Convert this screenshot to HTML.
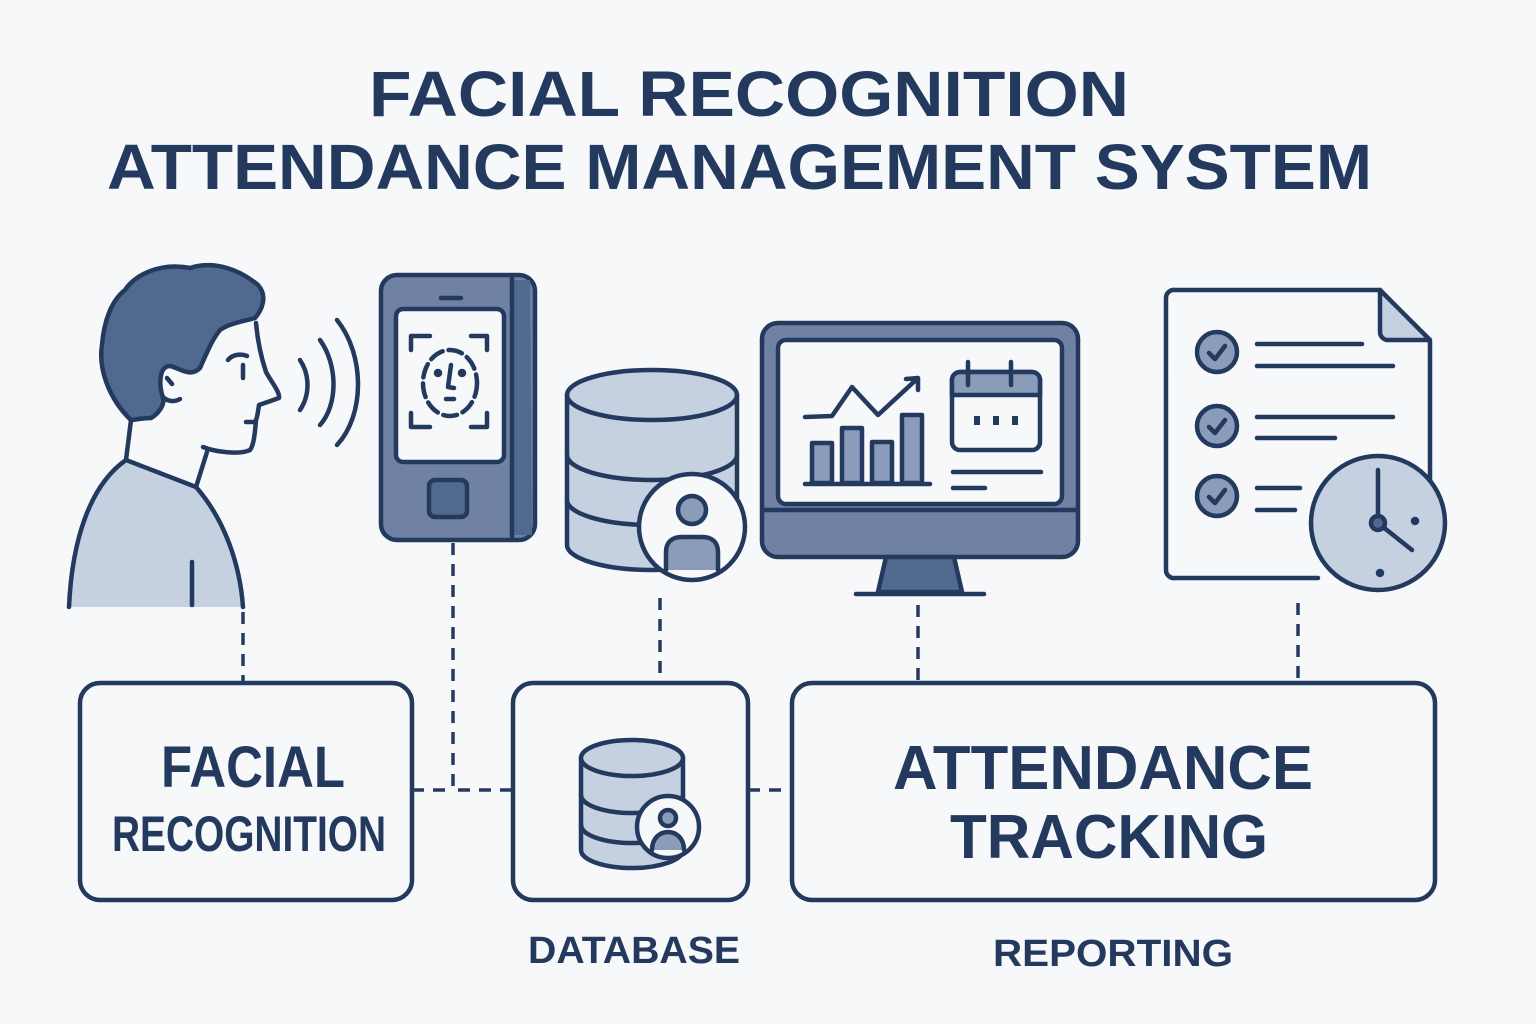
<!DOCTYPE html>
<html><head><meta charset="utf-8"><style>
html,body{margin:0;padding:0;background:#f7f8fa;}
svg{display:block;}
text{font-family:"Liberation Sans",sans-serif;font-weight:bold;fill:#233a5e;}
</style></head><body>
<svg width="1536" height="1024" viewBox="0 0 1536 1024" xmlns="http://www.w3.org/2000/svg">
<rect width="1536" height="1024" fill="#f7f8fa"/>
<g stroke="#233a5e" stroke-width="4.5" stroke-linecap="round" stroke-linejoin="round">
<!-- title -->
<text x="369" y="116" font-size="64" textLength="760" lengthAdjust="spacingAndGlyphs" stroke="none">FACIAL RECOGNITION</text>
<text x="107" y="189" font-size="64" textLength="1265" lengthAdjust="spacingAndGlyphs" stroke="none">ATTENDANCE MANAGEMENT SYSTEM</text>

<!-- person -->
<path d="M69,607 C72,540 90,485 126,460 L196,487 C225,520 240,565 243,607 Z" fill="#c5d0e1" stroke="none"/>
<path d="M69,607 C72,540 90,485 126,460" fill="none"/>
<path d="M196,487 C225,520 240,565 243,607" fill="none"/>
<path d="M126,460 L131,420" fill="none"/>
<path d="M126,460 L196,487" fill="none"/>
<path d="M196,487 L207,452" fill="none"/>
<line x1="192" y1="562" x2="192" y2="605"/>
<path d="M256,323 C258,345 262,360 266,372 C272,383 280,392 279,398 L259,405 C258,412 257,418 256,420 C255,432 254,445 250,450 C240,455 215,452 203,447" fill="#f7f8fa"/>
<path d="M131,420 C110,400 98,370 102,345 C104,320 112,300 125,290 C135,275 160,262 190,268 C215,260 240,270 258,285 C268,296 262,310 255,318 C240,322 228,324 220,330 C212,340 208,350 200,368 C190,378 180,368 170,366 C160,366 158,382 163,398 C165,405 158,414 151,418 C140,418 135,420 131,420 Z" fill="#51698e"/>
<path d="M167,378 L172,384" fill="none"/>
<path d="M163,397 C168,402 175,402 180,399" fill="none"/>
<path d="M228,360 C232,355 240,353 247,356" fill="none"/>
<line x1="243" y1="365" x2="243" y2="378"/>
<line x1="246" y1="422" x2="255" y2="422"/>
<!-- waves -->
<path d="M300,360 C310,375 310,395 300,410" fill="none"/>
<path d="M320,340 C338,365 338,405 320,425" fill="none"/>
<path d="M337,320 C365,355 365,415 337,445" fill="none"/>

<!-- phone -->
<rect x="381" y="275" width="154" height="265" rx="16" fill="#6f82a3"/>
<path d="M513,280 L530,280 L532,535 L513,535 Z" fill="#51698e" stroke="none"/>
<path d="M512,277 L512,538" fill="none"/>
<rect x="396" y="309" width="108" height="153" rx="7" fill="#f7f8fa"/>
<line x1="441" y1="298" x2="461" y2="298"/>
<rect x="429" y="480" width="38" height="37" rx="6" fill="#51698e"/>
<path d="M430,336 H411 V350 M471,336 H487 V350 M411,413 V427 H430 M487,413 V427 H471" fill="none"/>
<ellipse cx="450" cy="383" rx="27" ry="33" fill="none" stroke-dasharray="14 6"/>
<circle cx="438" cy="373" r="2" fill="#233a5e"/>
<circle cx="462" cy="373" r="2" fill="#233a5e"/>
<path d="M451,365 L448,387 L454,388" fill="none"/>
<line x1="446" y1="399" x2="454" y2="399"/>

<!-- database -->
<path d="M567,395 V545 A85,25 0 0 0 737,545 V395" fill="#c5d0e1"/>
<path d="M567,455 A85,25 0 0 0 737,455" fill="none"/>
<path d="M567,500 A85,25 0 0 0 737,500" fill="none"/>
<ellipse cx="652" cy="395" rx="85" ry="25" fill="#c5d0e1"/>
<circle cx="692" cy="527" r="53" fill="#f7f8fa"/>
<circle cx="692" cy="510" r="14" fill="#8a9cba"/>
<path d="M666,570 V552 C666,542 672,537 682,537 H702 C712,537 718,542 718,552 V570" fill="#8a9cba"/>

<!-- monitor -->
<rect x="762" y="323" width="316" height="234" rx="16" fill="#6f82a3"/>
<line x1="764" y1="510" x2="1076" y2="510"/>
<rect x="778" y="340" width="284" height="164" rx="8" fill="#f7f8fa"/>
<path d="M886,557 L878,592 L962,592 L954,557 Z" fill="#51698e"/>
<line x1="856" y1="594" x2="984" y2="594"/>
<rect x="812" y="443" width="20" height="40" fill="#8a9cba"/>
<rect x="842" y="428" width="20" height="55" fill="#8a9cba"/>
<rect x="872" y="442" width="20" height="41" fill="#8a9cba"/>
<rect x="902" y="415" width="20" height="68" fill="#8a9cba"/>
<line x1="805" y1="484" x2="930" y2="484"/>
<path d="M805,417 L832,416 L852,387 L878,415 L918,378 M906,379 L918,378 L918,390" fill="none"/>
<rect x="952" y="372" width="88" height="78" rx="8" fill="#f7f8fa"/>
<path d="M952,395 V380 A8,8 0 0 1 960,372 H1032 A8,8 0 0 1 1040,380 V395 Z" fill="#8a9cba"/>
<line x1="968" y1="362" x2="968" y2="385"/>
<line x1="1011" y1="362" x2="1011" y2="385"/>
<rect x="974" y="416" width="6" height="9" fill="#233a5e" stroke="none"/>
<rect x="993" y="416" width="6" height="9" fill="#233a5e" stroke="none"/>
<rect x="1012" y="416" width="6" height="9" fill="#233a5e" stroke="none"/>
<line x1="953" y1="472" x2="1041" y2="472"/>
<line x1="953" y1="488" x2="985" y2="488"/>

<!-- document -->
<path d="M1318,578 H1175 A8,8 0 0 1 1166,570 V298 A8,8 0 0 1 1175,290 H1380 L1430,342 V525" fill="#f7f8fa"/>
<path d="M1380,290 V332 A8,8 0 0 0 1388,340 H1430 Z" fill="#c5d0e1"/>
<circle cx="1217" cy="352" r="20" fill="#8a9cba"/>
<circle cx="1217" cy="426" r="20" fill="#8a9cba"/>
<circle cx="1217" cy="496" r="20" fill="#8a9cba"/>
<path d="M1209,353 L1215,359 L1225,346 M1209,427 L1215,433 L1225,420 M1209,497 L1215,503 L1225,490" fill="none"/>
<line x1="1257" y1="344" x2="1362" y2="344"/>
<line x1="1257" y1="366" x2="1393" y2="366"/>
<line x1="1257" y1="417" x2="1393" y2="417"/>
<line x1="1257" y1="438" x2="1335" y2="438"/>
<line x1="1257" y1="488" x2="1300" y2="488"/>
<line x1="1257" y1="510" x2="1295" y2="510"/>
<circle cx="1378" cy="523" r="67" fill="#c5d0e1"/>
<line x1="1378" y1="523" x2="1378" y2="470"/>
<line x1="1378" y1="523" x2="1412" y2="550"/>
<circle cx="1378" cy="523" r="7" fill="#51698e"/>
<circle cx="1415" cy="521" r="2" fill="#233a5e"/>
<circle cx="1380" cy="573" r="2" fill="#233a5e"/>

<!-- dashed connectors -->
<g fill="none" stroke-width="3.5" stroke-linecap="butt" stroke-dasharray="12 9">
<line x1="243" y1="612" x2="243" y2="683"/>
<path d="M453,543 V790 H513"/>
<line x1="412" y1="790" x2="450" y2="790"/>
<line x1="660" y1="598" x2="660" y2="683"/>
<line x1="918" y1="605" x2="918" y2="683"/>
<line x1="1298" y1="603" x2="1298" y2="683"/>
<line x1="748" y1="790" x2="792" y2="790"/>
</g>

<!-- boxes -->
<rect x="80" y="683" width="332" height="217" rx="20" fill="#f7f8fa"/>
<rect x="513" y="683" width="235" height="217" rx="20" fill="#f7f8fa"/>
<rect x="792" y="683" width="643" height="217" rx="20" fill="#f7f8fa"/>

<!-- small db -->
<path d="M581,758 V850 A51,18 0 0 0 683,850 V758" fill="#c5d0e1"/>
<path d="M581,795 A51,18 0 0 0 683,795" fill="none"/>
<path d="M581,825 A51,18 0 0 0 683,825" fill="none"/>
<ellipse cx="632" cy="758" rx="51" ry="18" fill="#c5d0e1"/>
<circle cx="668" cy="827" r="31" fill="#f7f8fa"/>
<circle cx="668" cy="818" r="8" fill="#8a9cba"/>
<path d="M652,850 C652,838 660,832 668,832 C676,832 684,838 684,850" fill="#8a9cba"/>
</g>

<text x="253" y="787" font-size="58" text-anchor="middle" textLength="184" lengthAdjust="spacingAndGlyphs">FACIAL</text>
<text x="249" y="851" font-size="50" text-anchor="middle" textLength="274" lengthAdjust="spacingAndGlyphs">RECOGNITION</text>
<text x="1103" y="789" font-size="62" text-anchor="middle" textLength="420" lengthAdjust="spacingAndGlyphs">ATTENDANCE</text>
<text x="1109" y="858" font-size="62" text-anchor="middle" textLength="318" lengthAdjust="spacingAndGlyphs">TRACKING</text>
<text x="634" y="963" font-size="38" text-anchor="middle" textLength="212" lengthAdjust="spacingAndGlyphs">DATABASE</text>
<text x="1113" y="966" font-size="38" text-anchor="middle" textLength="240" lengthAdjust="spacingAndGlyphs">REPORTING</text>
</svg>
</body></html>
